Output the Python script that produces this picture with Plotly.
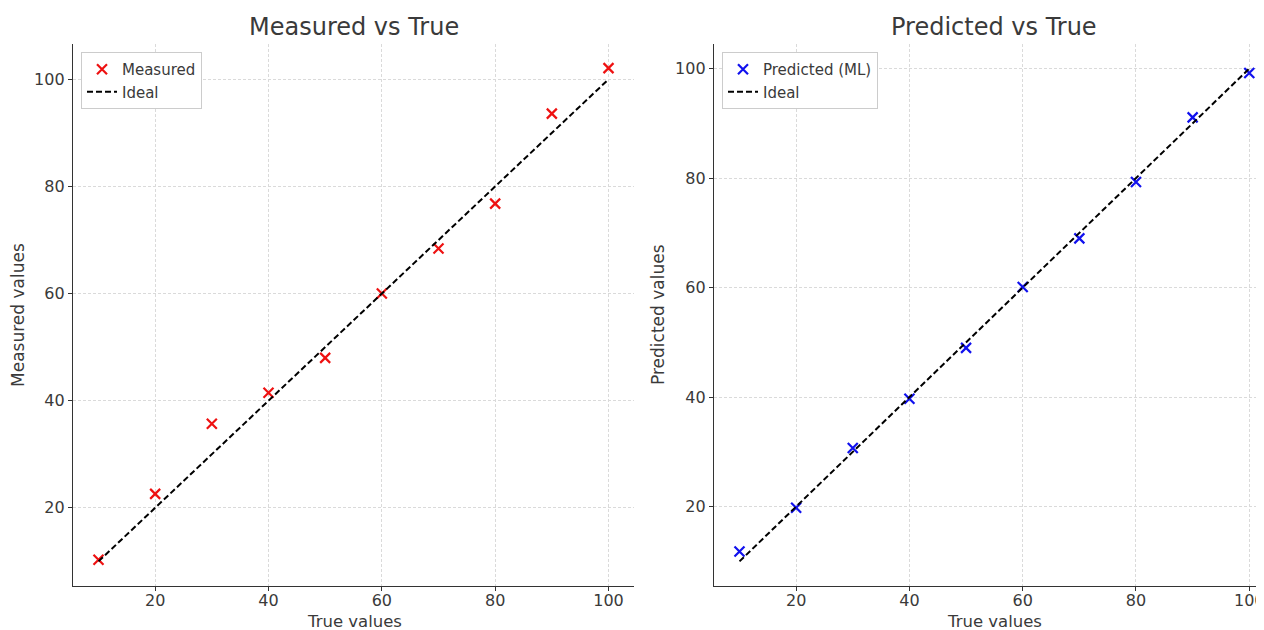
import plotly.graph_objects as go

true_vals = [10, 20, 30, 40, 50, 60, 70, 80, 90, 100]
measured = [10.3, 22.6, 35.7, 41.5, 48.0, 60.0, 68.4, 76.8, 93.6, 102.1]
predicted = [11.8, 19.8, 30.7, 39.7, 49.0, 60.1, 69.0, 79.3, 91.1, 99.2]
ideal = [10, 100]
tick_vals = [20, 40, 60, 80, 100]

# page body has an 8px margin; the figure is placed at (8, 8)
OFF = 8
W, H = 1264 - OFF, 630 - OFF
FONT = "DejaVu Sans"
TXT = "#3a3a3a"


def px(x):
    return (x - OFF) / W


def py(y):
    return 1 - (y - OFF) / H


fig = go.Figure()

fig.add_trace(go.Scatter(x=true_vals, y=measured, mode="markers", name="Measured",
                         marker=dict(symbol="x-thin", size=10, line=dict(width=2.2, color="#ee1111"), color="#ee1111"),
                         xaxis="x", yaxis="y", legend="legend"))
fig.add_trace(go.Scatter(x=ideal, y=ideal, mode="lines", name="Ideal",
                         line=dict(color="black", width=2, dash="6px,3px"),
                         xaxis="x", yaxis="y", legend="legend"))
fig.add_trace(go.Scatter(x=true_vals, y=predicted, mode="markers", name="Predicted (ML)",
                         marker=dict(symbol="x-thin", size=10, line=dict(width=2.2, color="#1111ee"), color="#1111ee"),
                         xaxis="x2", yaxis="y2", legend="legend2"))
fig.add_trace(go.Scatter(x=ideal, y=ideal, mode="lines", name="Ideal",
                         line=dict(color="black", width=2, dash="6px,3px"),
                         xaxis="x2", yaxis="y2", legend="legend2"))

ydom = [py(586), py(44)]
xdom1 = [px(73), px(634)]
xdom2 = [px(714), 1.0]

axis_common = dict(showline=True, linecolor="#333333", linewidth=1.3, mirror=False,
                   ticks="outside", ticklen=4, tickcolor="#333333", tickwidth=1.2,
                   showgrid=True, gridcolor="#dadada", gridwidth=0.8, griddash="3px,2px",
                   zeroline=False, tickvals=tick_vals, ticklabeloverflow="allow",
                   tickfont=dict(family=FONT, size=16, color=TXT), automargin=False)

fig.update_layout(
    width=W, height=H,
    margin=dict(l=0, r=0, t=0, b=0),
    paper_bgcolor="white", plot_bgcolor="white",
    font=dict(family=FONT, color=TXT),
    xaxis=dict(domain=xdom1, range=[5.5, 104.5], anchor="y", ticklabelstandoff=-4, **axis_common),
    yaxis=dict(domain=ydom, range=[5.4, 106.6], anchor="x", **axis_common),
    xaxis2=dict(domain=xdom2, range=[5.5, 102.6], anchor="y2", ticklabelstandoff=-4, **axis_common),
    yaxis2=dict(domain=ydom, range=[5.5, 104.5], anchor="x2", **axis_common),
    legend=dict(x=px(81), y=py(52), xanchor="left", yanchor="top",
                bgcolor="white", bordercolor="#cccccc", borderwidth=1,
                font=dict(family=FONT, size=15, color=TXT), tracegroupgap=0, itemwidth=30),
    legend2=dict(x=px(722), y=py(52), xanchor="left", yanchor="top",
                 bgcolor="white", bordercolor="#cccccc", borderwidth=1,
                 font=dict(family=FONT, size=15, color=TXT), tracegroupgap=0, itemwidth=30),
    showlegend=True,
)

annos = [
    dict(text="Measured vs True", x=px(354), y=py(27), size=24, angle=0),
    dict(text="Predicted vs True", x=px(994), y=py(27), size=24, angle=0),
    dict(text="True values", x=px(354), y=py(621), size=16.5, angle=0),
    dict(text="True values", x=px(994), y=py(621), size=16.5, angle=0),
    dict(text="Measured values", x=px(18), y=py(315), size=17, angle=-90),
    dict(text="Predicted values", x=px(658), y=py(315), size=17, angle=-90),
]
for a in annos:
    fig.add_annotation(text=a["text"], x=a["x"], y=a["y"], xref="paper", yref="paper",
                       showarrow=False, xanchor="center", yanchor="middle", textangle=a["angle"],
                       font=dict(family=FONT, size=a["size"], color=TXT))

fig.write_html("out.html")
